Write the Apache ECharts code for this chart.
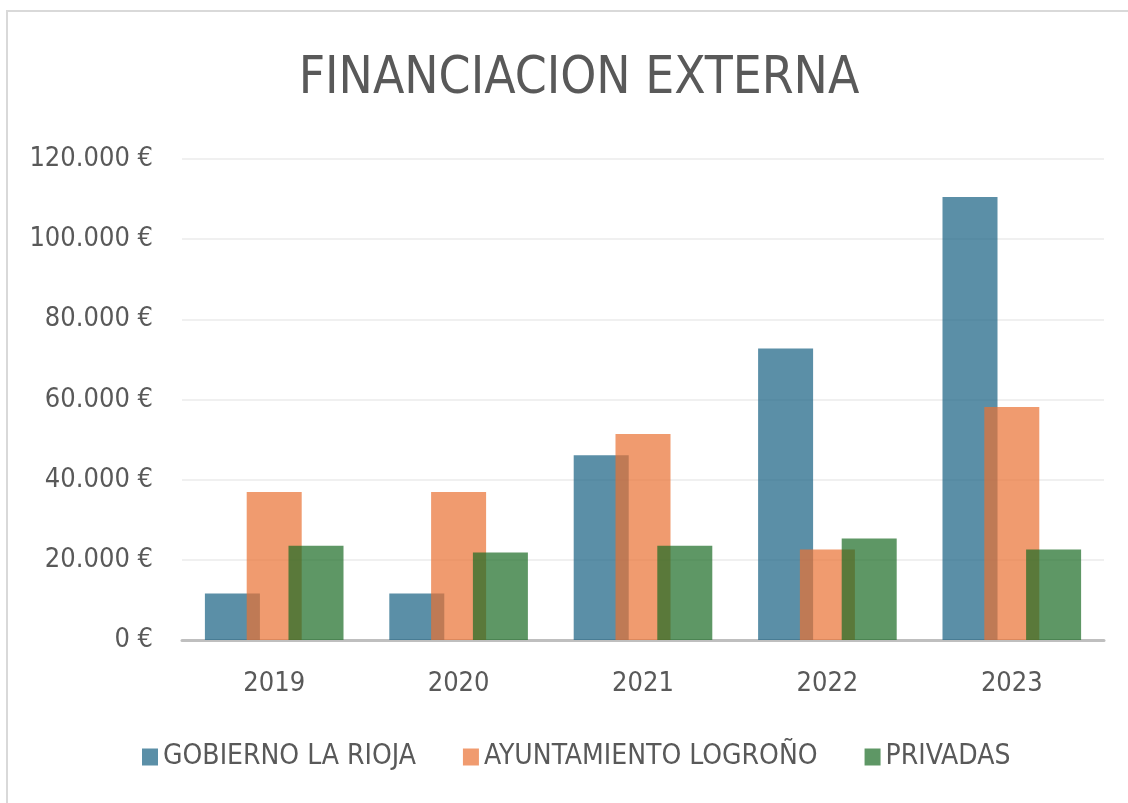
<!DOCTYPE html>
<html style="height: 100%">
  <head>
    <meta charset="utf-8" />
  </head>
  <body style="height: 100%; margin: 0; background: #fff">
    <div id="frame" style="position: absolute; left: 6px; top: 10px; right: -10px; bottom: -10px; border-top: 2px solid #d9d9d9; border-left: 2px solid #d9d9d9"></div>
    <div id="container" style="position: absolute; left: 0; top: 0; width: 1128px; height: 803px"></div>

    <script type="text/javascript" src="https://cdn.jsdelivr.net/npm/echarts@6/dist/echarts.min.js"></script>

    <script type="text/javascript">
      var years = ["2019", "2020", "2021", "2022", "2023"];
      var gobierno = [11600, 11600, 46100, 72700, 110500];
      var ayuntamiento = [36900, 36900, 51400, 22600, 58100];
      var privadas = [23500, 21800, 23500, 25300, 22600];

      var FONT = "'Liberation Sans Narrow', 'DejaVu Sans Condensed', Roboto, sans-serif";
      var TEXT = "#595959";

      var dom = document.getElementById("container");
      var myChart = echarts.init(dom);

      function euro(v) {
        return String(v).replace(/\B(?=(\d{3})+(?!\d))/g, ".") + " €";
      }

      var option = {
        animation: false,
        title: {
          text: "FINANCIACION EXTERNA",
          left: 574,
          textAlign: "center",
          top: 49,
          textStyle: {
            color: TEXT,
            fontFamily: FONT,
            fontWeight: "normal",
            fontSize: 51,
          },
        },
        legend: {
          bottom: 27,
          left: 137,
          itemWidth: 16,
          itemHeight: 17,
          itemGap: 47,
          icon: "rect",
          textStyle: { color: TEXT, fontFamily: FONT, fontSize: 28 },
          data: ["GOBIERNO LA RIOJA", "AYUNTAMIENTO LOGROÑO", "PRIVADAS"],
        },
        grid: { left: 182, right: 24, top: 159, bottom: 163 },
        xAxis: {
          type: "category",
          data: years,
          axisTick: { show: false },
          axisLine: { lineStyle: { color: "#bfbfbf", width: 3 } },
          axisLabel: { color: TEXT, fontFamily: FONT, fontSize: 27, margin: 30 },
        },
        yAxis: {
          type: "value",
          min: 0,
          max: 120000,
          interval: 20000,
          axisLine: { show: false },
          axisTick: { show: false },
          splitLine: { lineStyle: { color: "#f0f0f0", width: 2 } },
          axisLabel: {
            color: TEXT,
            fontFamily: FONT,
            fontSize: 27,
            margin: 29,
            formatter: euro,
          },
        },
        series: [
          {
            name: "GOBIERNO LA RIOJA",
            type: "bar",
            data: gobierno,
            barWidth: 55,
            barGap: "-24%",
            itemStyle: { color: "#156082", opacity: 0.7 },
          },
          {
            name: "AYUNTAMIENTO LOGROÑO",
            type: "bar",
            data: ayuntamiento,
            barWidth: 55,
            barGap: "-24%",
            itemStyle: { color: "#E97132", opacity: 0.7 },
          },
          {
            name: "PRIVADAS",
            type: "bar",
            data: privadas,
            barWidth: 55,
            barGap: "-24%",
            itemStyle: { color: "#196B24", opacity: 0.7 },
          },
        ],
      };

      myChart.setOption(option);
    </script>
  </body>
</html>
